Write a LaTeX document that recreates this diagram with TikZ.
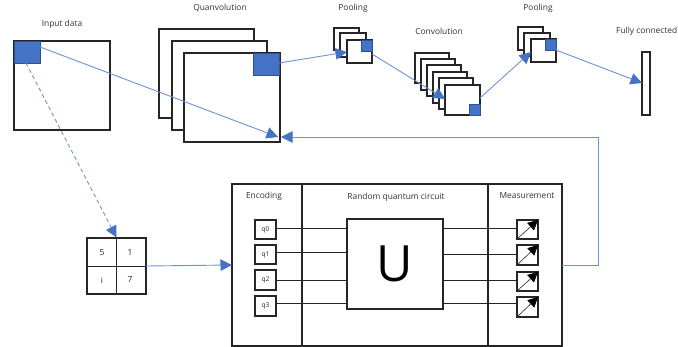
\documentclass[tikz,border=0pt]{standalone}
\usepackage{fontspec}
\setmainfont{Open Sans}
\usetikzlibrary{arrows.meta,positioning}
\definecolor{ln}{HTML}{262626}
\definecolor{bl}{HTML}{4472C4}
\definecolor{lk}{HTML}{6D92D6}
\definecolor{bd}{HTML}{2F528F}
\tikzset{
 frame/.style={draw=ln,line width=1.25pt,fill=white,inner sep=0pt,outer sep=0pt},
 bluebox/.style={draw=bd,line width=.9pt,fill=bl,inner sep=0pt,outer sep=0pt},
 thinbox/.style={draw=ln,line width=.9pt,inner sep=0pt,outer sep=0pt},
 lab/.style={font=\fontsize{8.4}{10}\selectfont,text=black!80,inner sep=0pt},
 small/.style={font=\fontsize{6.6}{8}\selectfont,text=black!85},
 cell/.style={font=\fontsize{8.4}{10}\selectfont,text=black!85,inner sep=0pt},
 link/.style={draw=lk,line width=.9pt,-{Triangle[length=11.5pt,width=11.5pt,color=bl,fill=bl]}},
 dashlink/.style={link,dash pattern=on 4pt off 3pt},
 wire/.style={draw=ln,line width=.7pt},
 meter/.style={draw=ln,line width=.6pt,-{Triangle[length=10pt,width=10pt,color=black,fill=black]}},
}
% \bx{style}{name}{x0}{y0}{x1}{y1}
\newcommand\bx[6]{%
 \pgfmathsetmacro\bxw{#5-#3}\pgfmathsetmacro\bxh{#6-#4}%
 \pgfmathsetmacro\bxx{(#3+#5)/2}\pgfmathsetmacro\bxy{(#4+#6)/2}%
 \node[#1,minimum width=\bxw pt,minimum height=\bxh pt] (#2) at (\bxx,\bxy) {};}
\begin{document}
\begin{tikzpicture}[x=1pt,y=-1pt]
\useasboundingbox (0,0) rectangle (678,347);
% input
\bx{frame}{inp}{14}{41}{110}{130}
\bx{bluebox}{inblue}{14}{41}{40}{63}
% quanvolution
\bx{frame}{qa}{159}{29}{254}{118}
\bx{frame}{qb}{172}{41}{267}{130}
\bx{frame}{qc}{184}{53}{280}{142}
\bx{bluebox}{qblue}{253}{53}{279}{75}
% pooling 1
\bx{frame}{pa}{334}{28}{359}{50}
\bx{frame}{pb}{340}{33}{366}{57}
\bx{frame}{pc}{347}{40}{372}{63}
\bx{bluebox}{pblue}{361}{40}{372}{51}
% convolution
\bx{frame}{ca}{415}{53}{449}{83}
\bx{frame}{cb}{421}{59}{455}{90}
\bx{frame}{cc}{427}{65}{461}{96}
\bx{frame}{cd}{433}{72}{467}{103}
\bx{frame}{ce}{439}{78}{473}{109}
\bx{frame}{cf}{445}{85}{480}{115}
\bx{bluebox}{cblue}{469}{104}{480}{115}
% pooling 2
\bx{frame}{ra}{518}{27}{543}{50}
\bx{frame}{rb}{524}{33}{550}{56}
\bx{frame}{rc}{531}{39}{556}{62}
\bx{bluebox}{rblue}{545}{39}{556}{50}
% fully connected
\bx{frame}{fc}{642}{52}{650}{115}
% matrix
\bx{frame}{mat}{87}{238}{146}{294}
\draw[thinbox] (mat.north) -- (mat.south) (mat.west) -- (mat.east);
\node[cell] (m5) at (102,253) {5};
\node[cell] (m1) at (130,253) {1};
\node[cell] (mi) at (102,280) {i};
\node[cell] (m7) at (130,280) {7};
% circuit frame
\bx{frame}{enc}{232}{184}{302}{346}
\bx{frame}{rqc}{302}{184}{488}{346}
\bx{frame}{mea}{488}{184}{562}{346}
\bx{frame}{uni}{347}{219}{443}{309}
\node[font=\fontsize{50}{54}\selectfont,text=black,inner sep=0pt] (ulab) at (395,264) {U};
% qubits
\foreach \n/\a/\b/\c/\d in {0/220/239/220/239,1/245/264/245/265,2/270/290/272/291,3/296/316/297/317}{
 \bx{frame}{q\n}{255}{\a}{276}{\b}
 \node[small] at (q\n) {q\n};
 \bx{frame}{me\n}{517}{\c}{538}{\d}
 \draw[meter] (me\n.south west) -- (me\n.north east);
}
\coordinate (ul0) at (347,228); \coordinate (ur0) at (443,228);
\coordinate (ul1) at (347,252); \coordinate (ur1) at (443,254);
\coordinate (ul2) at (347,280); \coordinate (ur2) at (443,280);
\coordinate (ul3) at (347,303); \coordinate (ur3) at (443,303);
\coordinate (el0) at (276,228); \coordinate (mr0) at (517,228);
\coordinate (el1) at (276,252); \coordinate (mr1) at (517,254);
\coordinate (el2) at (276,280); \coordinate (mr2) at (517,280);
\coordinate (el3) at (276,303); \coordinate (mr3) at (517,303);
\foreach \n in {0,1,2,3}{
 \draw[wire] (el\n) -- (ul\n);
 \draw[wire] (ur\n) -- (mr\n);
}
% labels
\node[lab] (t1) at (62,24) {Input data};
\node[lab] (t2) at (220,8) {Quanvolution};
\node[lab] (t3) at (353,8) {Pooling};
\node[lab] (t4) at (439,31) {Convolution};
\node[lab] (t5) at (538,8) {Pooling};
\node[lab,anchor=west] (t6) at (616,31) {Fully connected};
\node[lab] (t7) at (264,196) {Encoding};
\node[lab] (t8) at (396,197) {Random quantum circuit};
\node[lab] (t9) at (527,196) {Measurement};
% connectors
\coordinate (a1) at (40,47);
\coordinate (a2) at (278,137);
\coordinate (a3) at (26,63);
\coordinate (a4) at (116.5,237.5);
\coordinate (b1) at (279,63);
\coordinate (b2) at (347,52);
\coordinate (b3) at (372,54);
\coordinate (b4) at (445,99);
\coordinate (b5) at (480,98);
\coordinate (b6) at (531,52);
\coordinate (b7) at (556,50);
\coordinate (b8) at (642,83);
\coordinate (c1) at (146,266);
\coordinate (c2) at (232,265);
\coordinate (d1) at (562,265);
\coordinate (d2) at (598,265);
\coordinate (d3) at (598,137);
\coordinate (d4) at (281,137);
\draw[link] (a1) -- (a2);
\draw[dashlink] (a3) -- (a4);
\draw[link] (b1) -- (b2);
\draw[link] (b3) -- (b4);
\draw[link] (b5) -- (b6);
\draw[link] (b7) -- (b8);
\draw[link] (c1) -- (c2);
\draw[link] (d1) -- (d2) -- (d3) -- (d4);
\end{tikzpicture}
\end{document}
